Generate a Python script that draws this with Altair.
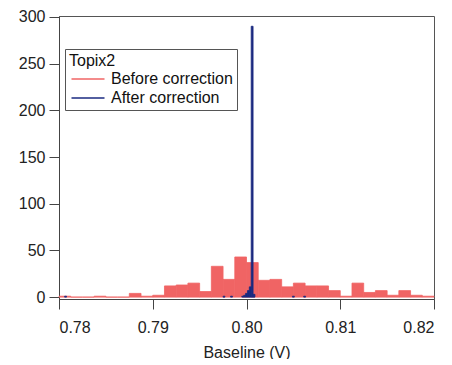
import altair as alt
import pandas as pd

# Before correction: histogram, bin width 0.00125 V starting at 0.78 V
red_bin_width = 0.00125
red_counts = [1, 0, 0, 1, 0, 0, 4, 1, 2, 12, 13, 15, 6, 33, 19, 43,
              37, 18, 19, 11, 15, 12, 12, 7, 1, 15, 5, 7, 2, 7, 2, 1]
red_starts = [round(0.78 + i * red_bin_width, 6) for i in range(len(red_counts))]

# After correction: histogram, bin width 0.0002 V
blue_bin_width = 0.0002
blue_starts = [0.7806, 0.7975, 0.7983, 0.7995, 0.7997, 0.7999, 0.8001, 0.8003,
               0.8005, 0.8007, 0.8049, 0.8061]
blue_counts = [1, 1, 1, 1, 2, 4, 7, 11, 290, 3, 1, 1]

series_names = ["Before correction", "After correction"]
series_colors = ["#f06464", "#1a2a80"]

x_ticks = [0.78, 0.79, 0.80, 0.81, 0.82]
y_ticks = [0, 50, 100, 150, 200, 250, 300]

rows = []
for s, c in zip(red_starts, red_counts):
    rows.append({"series": series_names[0], "x0": s, "x1": s + red_bin_width, "count": c})
for s, c in zip(blue_starts, blue_counts):
    rows.append({"series": series_names[1], "x0": s, "x1": s + blue_bin_width, "count": c})
df = pd.DataFrame(rows)

FONT = "Liberation Sans"

color_scale = alt.Scale(domain=series_names, range=series_colors)
legend = alt.Legend(
    title="Topix2", orient="none", legendX=6, legendY=33,
    titleFontSize=16, titleFontWeight="normal", titleColor="#111", titleFont=FONT,
    titlePadding=2,
    labelFontSize=16, labelColor="#111", labelFont=FONT, labelOffset=26,
    symbolType="M-1,0H5", symbolSize=121, symbolStrokeWidth=1.5,
    padding=4, rowPadding=3, strokeColor="#555", fillColor="white",
)

chart = alt.Chart(df).mark_bar(strokeWidth=0.8).encode(
    x=alt.X("x0:Q", title="Baseline (V)",
            scale=alt.Scale(domain=[0.78, 0.82], nice=False, zero=False),
            axis=alt.Axis(values=x_ticks, format=".2f", grid=False,
                          tickSize=10, labelPadding=10, titlePadding=9,
                          labelFontSize=16, titleFontSize=16, titleFontWeight="normal",
                          labelFont=FONT, titleFont=FONT,
                          labelColor="#222", titleColor="#222",
                          domainColor="#444", tickColor="#444")),
    x2="x1:Q",
    y=alt.Y("count:Q", title=None, stack=None,
            scale=alt.Scale(domain=[-2, 301], nice=False, zero=False),
            axis=alt.Axis(values=y_ticks, grid=False, tickSize=10, labelPadding=4,
                          labelFontSize=16, labelFont=FONT, labelColor="#222",
                          domainColor="#444", tickColor="#444")),
    y2=alt.datum(0),
    fill=alt.Fill("series:N", scale=color_scale, legend=legend),
    stroke=alt.Stroke("series:N", scale=color_scale, legend=legend),
).properties(
    width=375, height=283,
    autosize=alt.AutoSizeParams(type="none"),
    padding={"left": 51, "top": 8, "right": 10, "bottom": 60},
).configure_view(
    stroke="#555", strokeWidth=1
)

chart.save("out.html", embed_options={"renderer": "svg", "actions": False})
